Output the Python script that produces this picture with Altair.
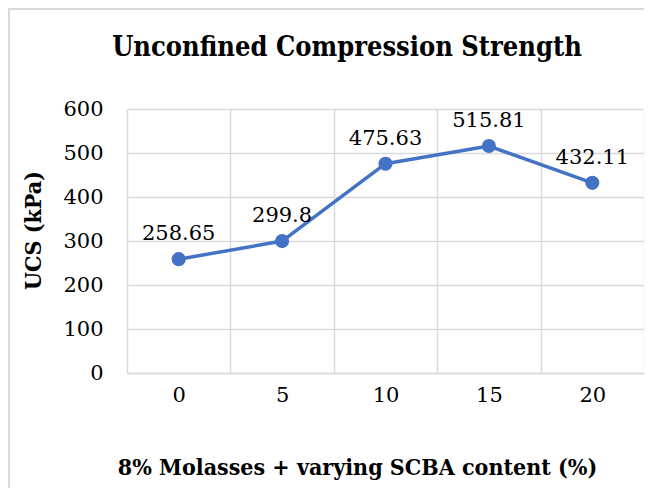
import altair as alt
import pandas as pd

scba = ["0", "5", "10", "15", "20"]
ucs = [258.65, 299.8, 475.63, 515.81, 432.11]
y_ticks = [0, 100, 200, 300, 400, 500, 600]

df = pd.DataFrame({"scba": scba, "ucs": ucs, "label": [f"{v:g}" for v in ucs]})

W, H = 517, 264
FONT = "DejaVu Serif"
FONT_C = "DejaVu Serif Condensed, DejaVu Serif"
GRID = "#d9d9d9"
BLUE = "#4472C4"

x_enc = alt.X(
    "scba:O",
    sort=scba,
    scale=alt.Scale(paddingInner=0, paddingOuter=0),
    axis=alt.Axis(
        title="8% Molasses + varying SCBA content (%)",
        titleFont=FONT_C, titleFontSize=23, titleFontWeight="bold", titleColor="black",
        titleX=230, titleY=94, titleBaseline="middle", titleAnchor="middle",
        labelFont=FONT, labelFontSize=21, labelColor="black", labelAngle=0,
        labelPadding=22, labelBaseline="middle",
        grid=True, gridColor=GRID, gridWidth=1.5, tickBand="extent",
        ticks=False, domain=True, domainColor=GRID, domainWidth=1.5,
    ),
)
x_plain = alt.X("scba:O", sort=scba)
y_enc = alt.Y(
    "ucs:Q",
    scale=alt.Scale(domain=[0, 600], nice=False, zero=True),
    axis=alt.Axis(
        title="UCS (kPa)",
        titleFont=FONT_C, titleFontSize=23, titleFontWeight="bold", titleColor="black",
        titleX=-94, titleY=121, titleAngle=-90, titleBaseline="middle", titleAlign="center",
        labelFont=FONT, labelFontSize=21, labelColor="black", labelPadding=24,
        values=y_ticks, grid=True, gridColor=GRID, gridWidth=1.5,
        ticks=False, domain=False,
    ),
)

base = alt.Chart(df)

border = base.mark_rect(fill=None, stroke=GRID, strokeWidth=2, clip=False).encode(
    x=alt.value(-118), x2=alt.value(W + 20), y=alt.value(-100), y2=alt.value(H + 200)
).transform_filter("datum.scba == '0'")

line = base.mark_line(color=BLUE, strokeWidth=3.5).encode(x=x_enc, y=y_enc)
pts = base.mark_circle(color=BLUE, size=200, opacity=1).encode(x=x_plain, y="ucs:Q")
labels = base.mark_text(font=FONT, fontSize=21, color="black", dy=-25, baseline="middle").encode(
    x=x_plain, y="ucs:Q", text="label:N"
)
title = base.mark_text(
    font=FONT_C, fontSize=27, fontWeight="bold", color="black", baseline="middle", align="center"
).encode(
    x=alt.value(220), y=alt.value(-61), text=alt.value("Unconfined Compression Strength")
).transform_filter("datum.scba == '0'")

chart = (
    alt.layer(border, line, pts, labels, title)
    .properties(
        width=W, height=H,
        autosize=alt.AutoSizeParams(type="none"),
        padding={"left": 119, "top": 101, "right": 0, "bottom": 115},
        background="white",
    )
    .configure_view(stroke=None)
)

chart.save("out.html", embed_options={"renderer": "svg", "actions": False})
